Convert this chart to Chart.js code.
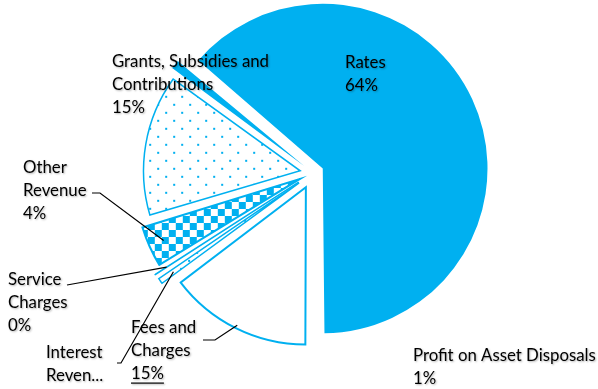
<!DOCTYPE html>
<html>
<head>
<meta charset="utf-8">
<script src="https://cdn.jsdelivr.net/npm/chart.js@4/dist/chart.umd.min.js"></script>
<style>
  html, body { margin: 0; padding: 0; background: #ffffff; }
  #wrap { width: 598px; height: 389px; position: relative; }
</style>
</head>
<body>
<div id="wrap"><canvas id="revenue" width="598" height="389"></canvas></div>
<script>
// Revenue sources, share of total operating revenue (%)
const categories = [
  'Rates',
  'Fees and Charges',
  'Interest Revenue',
  'Service Charges',
  'Other Revenue',
  'Grants, Subsidies and Contributions',
  'Profit on Asset Disposals'
];
const shares = [63.8, 14.7, 1.0, 0.4, 4.3, 14.6, 1.2];

// Text shown in each data label (the percentage line is added from the data)
const labelLines = [
  ['Rates'],
  ['Fees and', 'Charges'],
  ['Interest', 'Reven...'],
  ['Service', 'Charges'],
  ['Other', 'Revenue'],
  ['Grants, Subsidies and', 'Contributions'],
  ['Profit on Asset Disposals']
];
const showPercent = [true, true, false, true, true, true, true];

// ---- styling ----
const BLUE = '#00B0F0';
const FONT = '16.8px Lato, "Liberation Sans", sans-serif';
const LINE_H = 23;

function makePattern(kind) {
  const t = document.createElement('canvas');
  const g = t.getContext('2d');
  if (kind === 'dots') {
    t.width = 16; t.height = 16;
    g.fillStyle = '#ffffff'; g.fillRect(0, 0, 16, 16);
    g.fillStyle = BLUE;
    g.fillRect(2, 2, 2, 2);
    g.fillRect(10, 10, 2, 2);
  } else {
    t.width = 14; t.height = 14;
    g.fillStyle = '#ffffff'; g.fillRect(0, 0, 14, 14);
    g.fillStyle = BLUE;
    g.fillRect(0, 0, 7, 7);
    g.fillRect(7, 7, 7, 7);
  }
  return document.getElementById('revenue').getContext('2d').createPattern(t, 'repeat');
}
const dots = makePattern('dots');
const checker = makePattern('checker');

const sliceFill    = [BLUE, '#ffffff', dots, '#ffffff', checker, dots, BLUE];
const sliceBorder  = [BLUE, BLUE, BLUE, BLUE, BLUE, BLUE, BLUE];
const sliceBorderW = [0, 2, 1.5, 1.5, 2, 1.5, 0];
const explodeOffsets = [43, 64, 68, 68, 58, 52, 45];

// Label placement: top-left of the text block, plus the elbow of each leader line
const labelPlacement = [
  { x: 345, y: 51 },
  { x: 131, y: 316, underlinePct: true, leader: [[203, 340], [215, 340]], reach: 1.0 },
  { x: 46,  y: 341, leader: [[117, 363], [121, 363]], reach: 1.0 },
  { x: 8,   y: 268, leader: [[67, 285]], reach: 1.02 },
  { x: 23,  y: 156, leader: [[92, 193], [100, 193]], reach: 0.97 },
  { x: 112, y: 50 },
  { x: 413, y: 344 }
];

// total so that Rates closes exactly at six o'clock
const total = shares.reduce((a, b) => a + b, 0);
const startRotation = 180 - 360 * shares[0] / total;

const labelPlugin = {
  id: 'sliceLabels',
  afterDatasetsDraw(chart) {
    const ctx = chart.ctx;
    const meta = chart.getDatasetMeta(0);
    ctx.save();
    meta.data.forEach((arc, i) => {
      const p = labelPlacement[i];
      const pct = Math.round(shares[i] / total * 100) + '%';
      const lines = labelLines[i].slice();
      if (showPercent[i]) lines.push(pct);

      // leader line from the label elbow to the slice rim
      if (p.leader) {
        const off = (explodeOffsets[i] || 0) / 4;
        const mid = (arc.startAngle + arc.endAngle) / 2;
        const r = arc.outerRadius * p.reach + off;
        const ax = arc.x + Math.cos(mid) * r;
        const ay = arc.y + Math.sin(mid) * r;
        ctx.shadowColor = 'transparent';
        ctx.strokeStyle = '#000000';
        ctx.lineWidth = 1.2;
        ctx.beginPath();
        ctx.moveTo(p.leader[0][0], p.leader[0][1]);
        for (let k = 1; k < p.leader.length; k++) ctx.lineTo(p.leader[k][0], p.leader[k][1]);
        ctx.lineTo(ax, ay);
        ctx.stroke();
      }

      ctx.font = FONT;
      ctx.textBaseline = 'middle';
      ctx.textAlign = 'left';
      ctx.fillStyle = '#000000';
      ctx.shadowColor = 'rgba(0,0,0,0.3)';
      ctx.shadowBlur = 2;
      ctx.shadowOffsetX = 1;
      ctx.shadowOffsetY = 1;
      lines.forEach((t, k) => {
        const ty = p.y + LINE_H * k + LINE_H / 2;
        ctx.fillText(t, p.x, ty);
        if (p.underlinePct && showPercent[i] && k === lines.length - 1) {
          const w = ctx.measureText(t).width;
          ctx.fillRect(p.x, ty + 9, w, 1.2);
        }
      });
      ctx.shadowColor = 'transparent';
    });
    ctx.restore();
  }
};

new Chart(document.getElementById('revenue'), {
  type: 'pie',
  data: {
    labels: categories,
    datasets: [{
      data: shares,
      backgroundColor: sliceFill,
      borderColor: sliceBorder,
      borderWidth: sliceBorderW,
      offset: explodeOffsets,
      borderJoinStyle: 'miter',
      clip: false
    }]
  },
  options: {
    responsive: false,
    animation: false,
    devicePixelRatio: 1,
    rotation: startRotation,
    radius: 154,
    layout: { padding: { left: 28, right: 0, top: 0, bottom: 43 } },
    plugins: {
      legend: { display: false },
      tooltip: { enabled: false }
    },
    events: []
  },
  plugins: [labelPlugin]
});
</script>
</body>
</html>
